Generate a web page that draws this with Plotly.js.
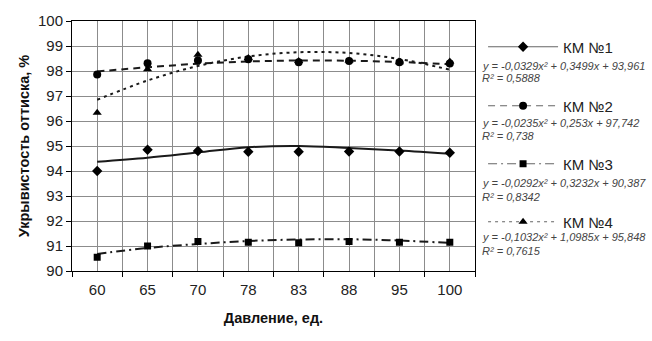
<!DOCTYPE html>
<html>
<head>
<meta charset="utf-8">
<script src="https://cdn.plot.ly/plotly-3.0.1.min.js"></script>
<style>html,body{margin:0;padding:0;background:#fff;}#chart{width:652px;height:341px;}</style>
</head>
<body>
<div id="chart"></div>
<script>
// Categories (pressure, units)
const categories = ["60", "65", "70", "78", "83", "88", "95", "100"];
// Measured values
const km1 = [94.0, 94.85, 94.8, 94.77, 94.77, 94.78, 94.78, 94.73];
const km2 = [97.86, 98.31, 98.42, 98.47, 98.35, 98.4, 98.35, 98.3];
const km3 = [90.55, 91.0, 91.18, 91.15, 91.13, 91.18, 91.15, 91.15];
const km4 = [96.33, 98.07, 98.65, 98.52, 98.4, 98.42, 98.35, 98.38];
// Trend lines
const km1Trend = [94.37, 94.53, 94.74, 94.95, 95.0, 94.92, 94.82, 94.69];
const km2Trend = [97.98, 98.15, 98.29, 98.38, 98.42, 98.41, 98.36, 98.27];
const km3Trend = [90.68, 90.92, 91.08, 91.2, 91.26, 91.27, 91.22, 91.12];
const km4Trend = [96.85, 97.62, 98.2, 98.58, 98.75, 98.72, 98.48, 98.05];
// Legend labels and equations
const names = ["КМ №1", "КМ №2", "КМ №3", "КМ №4"];
const equations = [
  "y = -0,0329x² + 0,3499x + 93,961",
  "y = -0,0235x² + 0,253x + 97,742",
  "y = -0,0292x² + 0,3232x + 90,387",
  "y = -0,1032x² + 1,0985x + 95,848"
];
const rSquared = ["R² = 0,5888", "R² = 0,738", "R² = 0,8342", "R² = 0,7615"];

const xIdx = categories.map((c, i) => i);
const series = [km1, km2, km3, km4];
const trends = [km1Trend, km2Trend, km3Trend, km4Trend];
const symbols = ["diamond", "circle", "square", "triangle-up"];
const msizes = [8, 8, 7, 8];
const dashes = ["solid", "7px,5px", "9px,4px,2px,4px", "3px,4px"];
const lineColor = "#1a1a1a";
const legendNames = ["legend", "legend2", "legend3", "legend4"];
const legendY = [0.896, 0.66, 0.428, 0.196];
const eqY = [0.82, 0.772, 0.592, 0.54, 0.352, 0.296, 0.136, 0.08];

const traces = [];
for (let k = 0; k < 4; k++) {
  traces.push({
    x: xIdx, y: trends[k], type: "scatter", mode: "lines",
    line: {color: lineColor, width: 2, dash: dashes[k], shape: "spline", smoothing: 1},
    showlegend: false, hoverinfo: "skip"
  });
}
for (let k = 0; k < 4; k++) {
  traces.push({
    x: xIdx, y: series[k], type: "scatter", mode: "markers",
    marker: {symbol: symbols[k], size: msizes[k], color: "#000"},
    showlegend: false
  });
}
for (let k = 0; k < 4; k++) {
  traces.push({
    x: [null], y: [null], type: "scatter", mode: "lines+markers", name: names[k],
    line: {color: "#666", width: 1.2, dash: dashes[k]},
    marker: {symbol: symbols[k], size: msizes[k], color: "#000"},
    legend: legendNames[k], showlegend: true
  });
}

const font = "Liberation Sans, Arial, sans-serif";
const layout = {
  width: 652, height: 341,
  margin: {l: 72, r: 177, t: 21, b: 70},
  paper_bgcolor: "#fff", plot_bgcolor: "#fff",
  font: {family: font, color: "#222", size: 14},
  xaxis: {
    range: [-0.5, 7.5],
    tickmode: "array", tickvals: xIdx, ticktext: categories,
    ticks: "", showgrid: true, gridcolor: "#8c8c8c", gridwidth: 1,
    showline: true, linecolor: "#000", linewidth: 1, mirror: true,
    zeroline: false, ticklabelstandoff: 5,
    minor: {tick0: -0.5, dtick: 1, ticks: "outside", ticklen: 5, tickcolor: "#000", showgrid: true, gridcolor: "#8c8c8c", gridwidth: 1},
    tickfont: {size: 15, color: "#222"},
    title: {text: "<b>Давление, ед.</b>", font: {size: 14.5, color: "#111"}, standoff: 15}
  },
  yaxis: {
    range: [90, 100], dtick: 1, tick0: 90,
    ticks: "outside", ticklen: 5, tickcolor: "#000",
    showgrid: true, gridcolor: "#8c8c8c", gridwidth: 1,
    showline: true, linecolor: "#000", linewidth: 1, mirror: true,
    zeroline: false,
    tickfont: {size: 15, color: "#222"},
    title: {text: "<b>Укрывистость оттиска, %</b>", font: {size: 14.5, color: "#111"}, standoff: 4}
  },
  annotations: [],
  showlegend: true
};
for (let k = 0; k < 4; k++) {
  layout[legendNames[k]] = {
    x: 1.02, xanchor: "left", y: legendY[k], yanchor: "middle",
    bgcolor: "rgba(0,0,0,0)", borderwidth: 0,
    itemwidth: 70, font: {size: 15, color: "#222", family: font}
  };
  layout.annotations.push({
    xref: "paper", yref: "paper", x: 1.013, y: eqY[2 * k], xanchor: "left", yanchor: "middle",
    text: equations[k], showarrow: false, font: {size: 11, color: "#444", family: font, style: "italic"}
  });
  layout.annotations.push({
    xref: "paper", yref: "paper", x: 1.013, y: eqY[2 * k + 1], xanchor: "left", yanchor: "middle",
    text: rSquared[k], showarrow: false, font: {size: 11, color: "#444", family: font, style: "italic"}
  });
}
Plotly.newPlot("chart", traces, layout, {staticPlot: true, displayModeBar: false});
</script>
</body>
</html>
